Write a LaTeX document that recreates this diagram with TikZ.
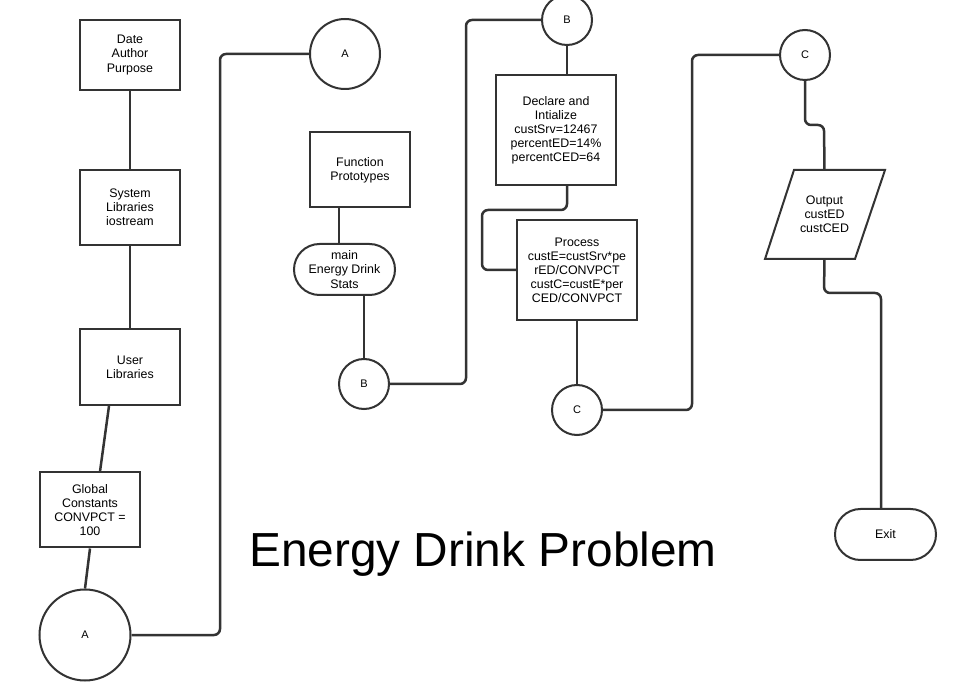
\documentclass[tikz,border=0pt]{standalone}
\usepackage{fontspec}
\setmainfont{Liberation Sans}
\usetikzlibrary{shapes.misc}
\definecolor{ink}{HTML}{333333}
\tikzset{
  box/.style={draw=ink, line width=2pt, fill=white, rectangle, inner sep=0pt, align=center, font=\fontsize{12.4}{14.1}\selectfont},
  conn/.style={draw=ink, circle, line width=2pt, fill=white, inner sep=0pt, font=\fontsize{11}{13}\selectfont},
  term/.style={draw=ink, rounded rectangle, line width=2pt, fill=white, inner sep=0pt, align=center, font=\fontsize{12.4}{14.1}\selectfont},
  link/.style={draw=ink, line width=2.5pt, rounded corners=6pt},
}
\begin{document}
\begin{tikzpicture}[x=1pt,y=-1pt]
\useasboundingbox[fill=white] (0,0) rectangle (962,700);
% nodes
\node[box, minimum width=100pt, minimum height=70pt] (DA) at (130,55) {Date\\Author\\Purpose};
\node[box, minimum width=100pt, minimum height=75pt] (SL) at (130,207.5) {System\\Libraries\\iostream};
\node[box, minimum width=100pt, minimum height=76pt] (UL) at (130,367) {User\\Libraries};
\node[box, minimum width=100pt, minimum height=75pt] (GC) at (90,510) {Global\\Constants\\CONVPCT =\\100};
\node[conn, minimum size=91pt] (A1) at (85,635) {A};
\node[conn, minimum size=70pt] (A2) at (345,54) {A};
\node[box, minimum width=100pt, minimum height=75pt] (FP) at (360,170) {Function\\Prototypes};
\node[term, minimum width=101pt, minimum height=51pt] (MN) at (344.5,269.5) {main\\Energy Drink\\Stats};
\node[conn, minimum size=50pt] (B1) at (364,384) {B};
\node[conn, minimum size=50pt] (B2) at (567,20) {B};
\node[box, minimum width=120pt, minimum height=110pt] (DI) at (556,130) {Declare and\\Intialize\\custSrv=12467\\percentED=14\%\\percentCED=64};
\node[box, minimum width=120pt, minimum height=100pt] (PR) at (577,270) {Process\\custE=custSrv*pe\\rED/CONVPCT\\custC=custE*per\\CED/CONVPCT};
\node[conn, minimum size=50pt] (C1) at (577,410) {C};
\node[conn, minimum size=50pt] (C2) at (805,55) {C};
\draw[draw=ink, line width=2pt, fill=white] (794,170) -- (885,170) -- (855,259) -- (765,259) -- cycle;
\node[inner sep=0pt, minimum width=90pt, minimum height=89pt, align=center, font=\fontsize{12.4}{14.1}\selectfont] (OU) at (824.5,214.5) {Output\\custED\\custCED};
\node[term, minimum width=101pt, minimum height=51pt] (EX) at (885.5,534.5) {Exit};
\node[anchor=base west, inner sep=0pt, font=\fontsize{47.8}{50}\selectfont] (TT) at (249,566) {Energy Drink Problem};
% links
\draw[link] (DA.south) -- (SL.north);
\draw[link] (SL.south) -- (UL.north);
\draw[link] ([xshift=-21pt]UL.south) -- ([xshift=10pt]GC.north);
\draw[link] (GC.south) -- (A1.north);
\draw[link] (A1.east) -- (220,635) |- (A2.west);
\draw[link] ([xshift=-21pt]FP.south) -- ([xshift=-5.5pt]MN.north);
\draw[link] ([xshift=19.5pt]MN.south) -- (B1.north);
\draw[link] (B1.east) -- (466,384) |- (B2.west);
\draw[link] (B2.south) -- (B2.south |- DI.north);
\draw[link] ([xshift=11pt]DI.south) -- (567,210) -- (482,210) |- (PR.west);
\draw[link] (PR.south) -- (C1.north);
\draw[link] (C1.east) -- (692,410) |- (C2.west);
\draw[link] (C2.south) -- (805,125) -- (824,125) -- (OU.north);
\draw[link] (OU.south) -- (824,293) -- (881,293) -- (EX.north -| 881,0);
\end{tikzpicture}
\end{document}
